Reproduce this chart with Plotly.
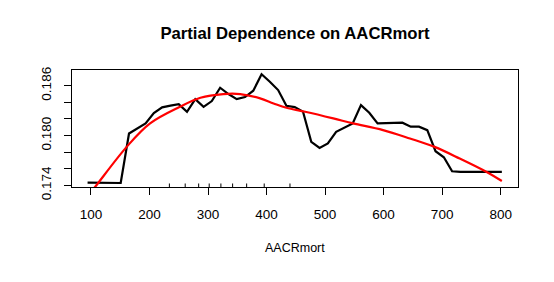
import plotly.graph_objects as go

# Partial dependence values (black line), 51 grid points
pd_x = [94.2, 108.4, 122.5, 136.7, 150.8, 165.0, 179.1, 193.3, 207.4, 221.6,
        235.8, 249.9, 264.1, 278.2, 292.4, 306.5, 320.7, 334.9, 349.0, 363.2,
        377.3, 391.5, 405.6, 419.8, 433.9, 448.1, 462.3, 476.4, 490.6, 504.7,
        518.9, 533.0, 547.2, 561.3, 575.5, 589.7, 603.8, 618.0, 632.1, 646.3,
        660.4, 674.6, 688.7, 702.9, 717.0, 731.2, 745.4, 759.5, 773.7, 787.8, 802.0]
pd_y = [0.17433, 0.17431, 0.17430, 0.17429, 0.17428, 0.18025, 0.18089, 0.18146, 0.18270, 0.18339,
        0.18361, 0.18379, 0.18286, 0.18439, 0.18346, 0.18415, 0.18576, 0.18500, 0.18439, 0.18464,
        0.18540, 0.18738, 0.18648, 0.18548, 0.18358, 0.18343, 0.18288, 0.17923, 0.17851, 0.17904,
        0.18044, 0.18095, 0.18146, 0.18367, 0.18274, 0.18146, 0.18147, 0.18149, 0.18155, 0.18107,
        0.18107, 0.18065, 0.17811, 0.17738, 0.17569, 0.17561, 0.17561, 0.17561, 0.17561, 0.17561, 0.17561]

# Smoothed fit (red line)
fit_x = [94, 107, 161, 201, 252, 287, 326, 355, 389, 412,
         434, 466, 514, 548, 599, 645, 687, 730, 776, 802]
fit_y = [0.17267, 0.17380, 0.17863, 0.18146, 0.18346, 0.18455, 0.18500, 0.18500, 0.18448, 0.18387,
         0.18334, 0.18286, 0.18206, 0.18146, 0.18065, 0.17964, 0.17863, 0.17723, 0.17561, 0.17452]

# Decile rug positions
rug_x = [234, 261, 284, 302, 322, 342, 366, 396, 440]

x_tickvals = [100, 200, 300, 400, 500, 600, 700, 800]
x_ticktext = ["100", "200", "300", "400", "500", "600", "700", "800"]
y_tickvals = [0.174, 0.176, 0.178, 0.180, 0.182, 0.184, 0.186]
y_ticktext = ["0.174", "", "", "0.180", "", "", "0.186"]

title_text = "Partial Dependence on AACRmort"
xlab = "AACRmort"

FONT = "Liberation Sans, Arial, Helvetica, sans-serif"

fig = go.Figure()
fig.add_trace(go.Scatter(x=pd_x, y=pd_y, mode="lines",
                         line=dict(color="black", width=2.2), showlegend=False))
fig.add_trace(go.Scatter(x=fit_x, y=fit_y, mode="lines", line_shape="spline",
                         line=dict(color="#ff0000", width=2.2), showlegend=False))

shapes = [dict(type="line", xref="x", yref="paper", x0=v, x1=v, y0=0, y1=0.03,
               line=dict(color="black", width=1)) for v in rug_x]

fig.update_layout(
    width=554, height=282,
    margin=dict(l=72, r=36, t=70, b=95, autoexpand=False),
    paper_bgcolor="white", plot_bgcolor="white",
    font=dict(family=FONT, color="black", size=13),
    title=dict(text="<b>%s</b>" % title_text, x=0.5325, xanchor="center",
               y=1 - 33 / 282, yanchor="middle", yref="container",
               font=dict(size=16.7, family=FONT, color="black")),
    shapes=shapes,
    annotations=[dict(text=xlab, xref="paper", yref="paper", x=0.5, y=-0.525,
                      xanchor="center", yanchor="middle", showarrow=False,
                      font=dict(size=12.5, family=FONT, color="black"))],
)
fig.update_xaxes(range=[67.6, 829.6], tickvals=x_tickvals, ticktext=x_ticktext,
                 ticks="outside", ticklen=7, tickwidth=1, tickcolor="black",
                 showline=True, linecolor="black", linewidth=1, mirror=True,
                 showgrid=False, zeroline=False, tickfont=dict(size=13.5),
                 ticklabelstandoff=8)
fig.update_yaxes(range=[0.173795, 0.187898], tickvals=y_tickvals, ticktext=y_ticktext,
                 ticks="outside", ticklen=7, tickwidth=1, tickcolor="black",
                 showline=True, linecolor="black", linewidth=1, mirror=True,
                 showgrid=False, zeroline=False, tickangle=-90, tickfont=dict(size=13.5),
                 ticklabelstandoff=8)

fig.write_html("out.html", config={"displayModeBar": False},
               post_script="document.body.style.margin='0';")
